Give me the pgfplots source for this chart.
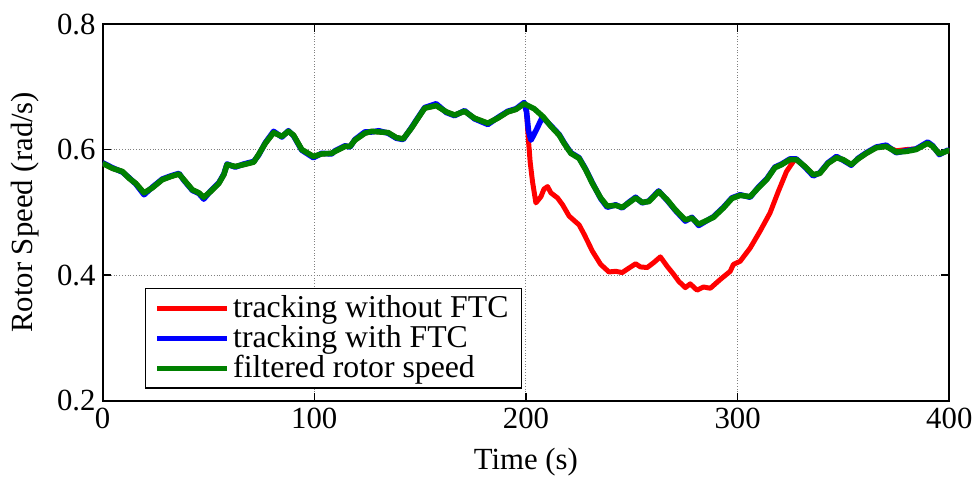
\documentclass[border=0pt]{standalone}
\usepackage{fontspec}
\setmainfont{Liberation Serif}
\newfontfamily\tnr{Liberation Serif}
\usepackage{pgfplots}
\usepackage{pgfplotstable}
\pgfplotsset{compat=1.18}

% rotor speed, filtered
\pgfplotstableread{
t v
0 0.578
4.7 0.570
9.4 0.565
12.6 0.554
15.7 0.546
19.6 0.531
23.5 0.539
28.2 0.552
32.2 0.557
36.1 0.561
38.4 0.552
42.4 0.536
45.5 0.531
47.8 0.524
51 0.533
54.9 0.546
57.3 0.560
58.8 0.576
62.7 0.573
66.7 0.576
71.4 0.580
73.7 0.592
76.9 0.610
80.8 0.627
84.7 0.621
87.8 0.629
90.2 0.623
94.1 0.600
99.6 0.589
103.5 0.593
108.2 0.594
109.8 0.597
114.5 0.605
116.9 0.605
119.2 0.615
123.9 0.626
127.1 0.629
134.9 0.627
138.8 0.619
142 0.617
145.9 0.634
149 0.650
152.2 0.666
157.6 0.670
162.4 0.660
166.3 0.655
171 0.661
175.7 0.650
182 0.642
186.7 0.650
191.4 0.660
195.3 0.664
199.2 0.673
203.9 0.665
208.2 0.652
211.8 0.637
215.7 0.623
218.0 0.610
221.2 0.594
225.1 0.586
228.2 0.568
231.4 0.546
235.3 0.523
238.4 0.510
242.4 0.511
245.5 0.508
248.6 0.515
251.8 0.523
254.9 0.516
258 0.517
262.7 0.533
266.7 0.520
270.6 0.504
275.3 0.488
278.4 0.491
281.6 0.481
288.6 0.492
293.3 0.507
297.3 0.522
301.2 0.527
305.9 0.525
309.8 0.539
313.7 0.552
317.6 0.571
320.8 0.576
324.7 0.584
327.8 0.584
331.8 0.573
335.7 0.560
338.8 0.562
342.7 0.578
346.7 0.587
349.8 0.584
353.7 0.576
356.9 0.585
360.8 0.594
365.5 0.603
370.2 0.605
374.9 0.596
379.6 0.597
384.3 0.600
389.8 0.610
392.2 0.605
395.3 0.593
399.2 0.598
400 0.598
}\filtered

% tracking with FTC
\pgfplotstableread{
t v
0 0.579
4.7 0.571
9.4 0.564
12.6 0.555
15.7 0.545
19.6 0.528
23.5 0.540
28.2 0.553
32.2 0.558
36.1 0.562
38.4 0.551
42.4 0.535
45.5 0.530
47.8 0.521
51 0.534
54.9 0.547
57.3 0.561
58.8 0.577
62.7 0.572
66.7 0.577
71.4 0.581
73.7 0.591
76.9 0.611
80.8 0.629
84.7 0.620
87.8 0.630
90.2 0.622
94.1 0.599
99.6 0.587
103.5 0.594
108.2 0.593
109.8 0.598
114.5 0.606
116.9 0.604
119.2 0.616
123.9 0.628
127.1 0.628
130.5 0.630
134.9 0.626
138.8 0.618
142 0.616
145.9 0.635
149 0.651
152.2 0.667
157.6 0.673
162.4 0.659
166.3 0.654
171 0.662
175.7 0.649
182 0.640
186.7 0.651
191.4 0.661
195.3 0.665
199.2 0.675
200.3 0.660
201.2 0.630
202.4 0.615
205.0 0.632
207.8 0.652
211.8 0.638
215.7 0.624
218.0 0.611
221.2 0.595
225.1 0.587
228.2 0.569
231.4 0.547
235.3 0.522
238.4 0.508
242.4 0.512
245.5 0.507
248.6 0.516
251.8 0.524
254.9 0.515
258 0.518
262.7 0.534
266.7 0.519
270.6 0.503
275.3 0.486
278.4 0.492
281.6 0.479
288.6 0.493
293.3 0.508
297.3 0.523
301.2 0.528
305.9 0.524
309.8 0.540
313.7 0.553
317.6 0.572
320.8 0.577
324.7 0.585
327.8 0.585
331.8 0.572
335.7 0.558
338.8 0.563
342.7 0.579
346.7 0.589
349.8 0.583
353.7 0.575
356.9 0.586
360.8 0.595
365.5 0.604
370.2 0.607
374.9 0.595
379.6 0.598
384.3 0.601
389.8 0.612
392.2 0.606
395.3 0.592
399.2 0.599
400 0.598
}\withftc

% tracking without FTC
\pgfplotstableread{
t v
0 0.578
4.7 0.570
9.4 0.565
12.6 0.554
15.7 0.546
19.6 0.531
23.5 0.539
28.2 0.552
32.2 0.557
36.1 0.561
38.4 0.552
42.4 0.536
45.5 0.531
47.8 0.524
51 0.533
54.9 0.546
57.3 0.560
58.8 0.576
62.7 0.573
66.7 0.576
71.4 0.580
73.7 0.592
76.9 0.610
80.8 0.627
84.7 0.621
87.8 0.629
90.2 0.623
94.1 0.600
99.6 0.589
103.5 0.593
108.2 0.594
109.8 0.597
114.5 0.605
116.9 0.605
119.2 0.615
123.9 0.626
127.1 0.629
134.9 0.627
138.8 0.619
142 0.617
145.9 0.634
149 0.650
152.2 0.666
157.6 0.670
162.4 0.660
166.3 0.655
171 0.661
175.7 0.650
182 0.642
186.7 0.650
191.4 0.660
195.3 0.664
199.2 0.673
200.3 0.660
201.0 0.623
202.0 0.580
203.1 0.549
204.7 0.515
207.1 0.525
208.5 0.537
210.2 0.541
211.8 0.531
214.9 0.523
217.3 0.512
220.4 0.494
225.1 0.480
227.5 0.465
231.4 0.438
235.3 0.417
239.2 0.405
242.4 0.406
245.5 0.404
248.6 0.411
251.8 0.418
254.1 0.413
257.3 0.412
260.4 0.420
263.5 0.429
266.7 0.414
269.8 0.401
272.2 0.390
275.3 0.380
277.6 0.386
280.8 0.376
283.9 0.381
287.1 0.379
291.8 0.393
296.5 0.406
298 0.417
301.2 0.422
305.9 0.443
310.6 0.470
315.3 0.499
319.2 0.533
323.1 0.565
327.1 0.585
331.8 0.573
335.7 0.560
338.8 0.562
342.7 0.578
346.7 0.587
349.8 0.584
353.7 0.576
356.9 0.585
360.8 0.594
365.5 0.603
370.2 0.605
374.9 0.598
379.6 0.600
384.3 0.601
389.8 0.610
392.2 0.605
395.3 0.593
399.2 0.598
400 0.598
}\noftc

\definecolor{mgreen}{rgb}{0,0.5,0}

\begin{document}
\tnr
\begin{tikzpicture}
\begin{axis}[
  scale only axis,
  width=425bp, height=189bp,
  xmin=0, xmax=400, ymin=0.2, ymax=0.8,
  xtick={0,100,200,300,400},
  ytick={0.2,0.4,0.6,0.8},
  yticklabel style={/pgf/number format/.cd, fixed, fixed zerofill, precision=1},
  /pgf/number format/assume math mode=true,
  font=\tnr\fontsize{15.5}{18}\selectfont,
  xlabel={Time (s)},
  ylabel={Rotor Speed (rad/s)},
  xlabel style={yshift=-3bp},
  ylabel style={yshift=2bp},
  grid=major,
  grid style={densely dotted, black!50, line width=0.5pt},
  axis line style={line width=1pt},
  major tick length=4bp,
  tick style={black, line width=0.6pt},
  legend style={at={(0.05,0.032)}, anchor=south west, draw=black,
    line width=0.7pt, fill=white, inner xsep=4.5bp, inner ysep=1.5bp, row sep=-1.5bp,
    font=\tnr\fontsize{16}{18}\selectfont},
  legend cell align=left,
  legend image code/.code={\draw[#1, line width=2.5pt] (0bp,0bp) -- (35bp,0bp);},
]
\addplot[red, line width=2.5pt, line join=round] table[x=t, y=v] {\noftc};
\addlegendentry{tracking without FTC}
\addplot[blue, line width=2.8pt, line join=round] table[x=t, y=v] {\withftc};
\addlegendentry{tracking with FTC}
\addplot[mgreen, line width=2.8pt, line join=round] table[x=t, y=v] {\filtered};
\addlegendentry{filtered rotor speed}
\end{axis}
% white margin round the figure
\path ([xshift=-2.5bp]current bounding box.west);
\path ([yshift=3.5bp]current bounding box.north);
\end{tikzpicture}
\end{document}
